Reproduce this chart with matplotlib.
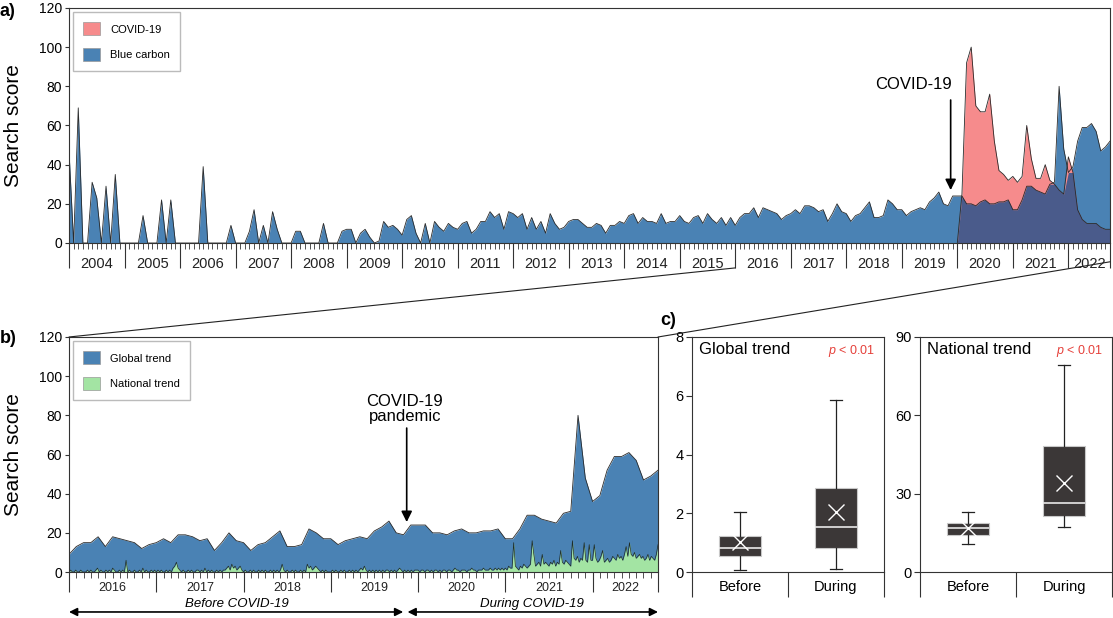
import numpy as np
import matplotlib.pyplot as plt
from matplotlib.patches import Patch, ConnectionPatch
from matplotlib.ticker import FixedLocator, MultipleLocator, NullFormatter

plt.rcParams['font.family'] = ['Liberation Sans', 'DejaVu Sans']
plt.rcParams['mathtext.fontset'] = 'custom'
plt.rcParams['mathtext.it'] = 'Liberation Sans:italic'
plt.rcParams['mathtext.rm'] = 'Liberation Sans'

BLUE = '#4a82b4'
NAVY = '#4a5b8b'
PINK = '#f68b8c'
GREEN = '#a3e4a3'
EDGE = '#2a2a2a'

#%% data: monthly search score "blue carbon", Jan 2004 - Oct 2022
bc_2004 = [47, 0, 69, 0, 0, 31, 23, 0, 29, 0, 35, 0]
bc_2005 = [0, 0, 0, 0, 14, 0, 0, 0, 22, 0, 22, 0]
bc_2006 = [0, 0, 0, 0, 0, 39, 0, 0, 0, 0, 0, 9]
bc_2007 = [0, 0, 0, 6, 17, 0, 9, 0, 16, 7, 0, 0]
bc_2008 = [0, 6, 6, 0, 0, 0, 0, 10, 0, 0, 0, 6]
bc_2009 = [7, 7, 0, 5, 7, 3, 0, 1, 11, 8, 9, 7]
bc_2010 = [4, 12, 14, 5, 0, 10, 0, 11, 8, 6, 10, 8]
bc_2011 = [7, 10, 11, 5, 7, 11, 11, 16, 13, 15, 7, 16]
bc_2012 = [15, 13, 15, 7, 13, 7, 11, 5, 15, 10, 7, 8]
bc_2013 = [11, 12, 12, 10, 8, 8, 10, 9, 5, 9, 9, 11]
bc_2014 = [10, 14, 15, 10, 13, 11, 11, 10, 15, 10, 11, 11]
bc_2015 = [14, 11, 10, 13, 14, 10, 15, 12, 10, 13, 9, 13]
bc_2016 = [9, 13, 15, 15, 18, 13, 18, 17, 16, 15, 12, 14]
bc_2017 = [15, 17, 15, 19, 19, 18, 16, 17, 11, 15, 20, 16]
bc_2018 = [15, 11, 14, 15, 18, 21, 13, 13, 14, 22, 20, 17]
bc_2019 = [17, 14, 16, 17, 18, 17, 21, 23, 26, 20, 19, 24]
bc_2020 = [24, 24, 20, 20, 19, 21, 22, 20, 20, 21, 21, 22]
bc_2021 = [17, 17, 22, 29, 29, 27, 26, 25, 30, 31, 80, 48]
bc_2022 = [36, 39, 52, 59, 59, 61, 57, 47, 49, 52]

# monthly search score "COVID-19", Jan 2020 - Oct 2022
cv_2020 = [0, 25, 92, 100, 70, 67, 67, 76, 52, 37, 35, 32]
cv_2021 = [34, 31, 34, 60, 43, 33, 33, 40, 32, 30, 27, 25]
cv_2022 = [44, 36, 17, 12, 10, 10, 10, 8, 7, 7]

# weekly national trend, 2016 - Oct 2022
nat_2016 = [0, 1, 0, 0, 1, 0, 0, 1, 0, 0, 0, 1, 0, 1, 0, 0, 1, 2, 0, 1, 0, 0, 1, 0, 1, 0,
            2, 1, 0, 0, 1, 0, 1, 0, 6, 0, 1, 0, 0, 1, 0, 0, 1, 0, 2, 0, 1, 0, 0, 1, 0, 1]
nat_2017 = [0, 1, 0, 1, 0, 0, 1, 0, 1, 0, 2, 3, 5, 2, 1, 0, 1, 0, 0, 1, 0, 1, 0, 0, 1, 1,
            0, 1, 0, 2, 0, 1, 0, 1, 0, 0, 1, 0, 1, 0, 1, 1, 2, 3, 1, 4, 2, 3, 1, 2, 3, 1]
nat_2018 = [0, 1, 0, 0, 1, 0, 1, 0, 0, 1, 0, 1, 0, 1, 0, 0, 1, 0, 1, 0, 1, 0, 1, 4, 1, 0,
            1, 0, 0, 1, 0, 1, 0, 0, 1, 0, 1, 0, 4, 2, 3, 1, 2, 3, 2, 1, 0, 1, 0, 1, 0, 0]
nat_2019 = [0, 1, 0, 1, 0, 0, 1, 0, 1, 0, 0, 1, 0, 1, 0, 1, 0, 1, 2, 1, 3, 1, 0, 1, 0, 1,
            0, 1, 0, 1, 0, 1, 0, 1, 1, 0, 1, 0, 1, 0, 1, 2, 1, 0, 1, 0, 1, 0, 1, 0, 1, 1]
nat_2020 = [1, 0, 1, 1, 0, 1, 1, 0, 1, 0, 1, 1, 0, 1, 0, 1, 1, 0, 1, 1, 0, 1, 2, 1, 1, 0,
            1, 1, 1, 0, 1, 1, 2, 1, 1, 0, 1, 1, 1, 2, 1, 1, 1, 2, 1, 1, 2, 1, 2, 1, 2, 1]
nat_2021 = [2, 1, 3, 2, 2, 15, 3, 2, 1, 3, 2, 4, 3, 2, 3, 4, 16, 9, 3, 4, 5, 3, 9, 4, 5, 4,
            3, 5, 4, 6, 3, 5, 4, 11, 5, 4, 6, 5, 4, 3, 16, 7, 6, 8, 5, 7, 6, 15, 6, 5, 14, 6]
nat_2022 = [6, 14, 7, 5, 6, 8, 11, 5, 6, 7, 5, 6, 8, 7, 6, 9, 7, 8, 6, 9,
            13, 8, 15, 9, 8, 10, 7, 8, 9, 7, 8, 6, 7, 9, 6, 8, 7, 6, 9, 14]

# box plot summaries (before / during COVID-19)
box_labels = ['Before', 'During']
glob_lo = [0.07, 0.10]
glob_q1 = [0.54, 0.81]
glob_med = [0.81, 1.52]
glob_q3 = [1.24, 2.87]
glob_hi = [2.05, 5.85]
glob_mean = [1.03, 2.05]
nat_lo = [10.7, 17.4]
nat_q1 = [14.3, 21.4]
nat_med = [16.7, 26.5]
nat_q3 = [18.9, 48.3]
nat_hi = [23.1, 79.3]
nat_mean = [16.7, 34.0]

blue_carbon = np.array(bc_2004 + bc_2005 + bc_2006 + bc_2007 + bc_2008 + bc_2009 + bc_2010
                       + bc_2011 + bc_2012 + bc_2013 + bc_2014 + bc_2015 + bc_2016 + bc_2017
                       + bc_2018 + bc_2019 + bc_2020 + bc_2021 + bc_2022, float)
months = 2004 + np.arange(len(blue_carbon)) / 12
covid = np.array(cv_2020 + cv_2021 + cv_2022, float)
covid_x = 2020 + np.arange(len(covid)) / 12
national = np.array(nat_2016 + nat_2017 + nat_2018 + nat_2019 + nat_2020 + nat_2021 + nat_2022, float)
nat_x = 2016 + np.arange(len(national)) / 52

END = 2022.75


def year_axis(ax, start, major_len, minor_len, label_y, size):
    ax.set_xlim(start, END)
    edges = list(range(start, 2023)) + [END]
    ax.xaxis.set_major_locator(FixedLocator(edges))
    ax.xaxis.set_minor_locator(MultipleLocator(1 / 12))
    ax.xaxis.set_major_formatter(NullFormatter())
    ax.tick_params(axis='x', which='major', length=major_len, width=0.8, color='#333')
    ax.tick_params(axis='x', which='minor', length=minor_len, width=0.6, color='#333')
    for yr in range(start, 2023):
        mid = (yr + min(yr + 1, END)) / 2
        ax.text(mid, label_y, str(yr), transform=ax.get_xaxis_transform(),
                ha='center', va='center', fontsize=size, color='#222')


def frame(ax):
    for s in ax.spines.values():
        s.set_linewidth(0.8)
        s.set_color('#333')
    ax.tick_params(axis='y', length=3, width=0.8, labelsize=10, pad=2, color='#333')


def legend(ax, names, colors):
    ax.legend(handles=[Patch(facecolor=c, edgecolor='#999', lw=0.5, label=n)
                       for n, c in zip(names, colors)],
              loc='upper left', fontsize=8, fancybox=False, edgecolor='#aaa',
              handlelength=1.5, handleheight=1.4, labelspacing=1.15, borderpad=0.9,
              borderaxespad=0.4, handletextpad=0.9)


fig = plt.figure(figsize=(11.13, 6.18), dpi=100)

#%% a) blue carbon vs COVID-19
ax_a = fig.add_axes([0.062, 0.6068, 0.9353, 0.3803])
ax_a.fill_between(months, blue_carbon, color=BLUE, lw=0)
ax_a.fill_between(covid_x, covid, color=PINK, lw=0)
ax_a.fill_between(covid_x, np.minimum(covid, blue_carbon[-len(covid):]), color=NAVY, lw=0)
ax_a.plot(months, blue_carbon, color=EDGE, lw=0.6)
ax_a.plot(covid_x, covid, color=EDGE, lw=0.6)
ax_a.set_ylim(0, 120)
ax_a.yaxis.set_major_locator(MultipleLocator(20))
frame(ax_a)
year_axis(ax_a, 2004, 18, 4.3, -0.09, 10.5)
ax_a.set_ylabel('Search score', fontsize=15)
ax_a.yaxis.set_label_coords(-46 / 1041, 0.5)
ax_a.text(2019.21, 81, 'COVID-19', ha='center', va='center', fontsize=12)
ax_a.annotate('', xy=(2019.88, 27), xytext=(2019.88, 73),
              arrowprops=dict(arrowstyle='-|>', color='k', lw=1.2, mutation_scale=16,
                              shrinkA=0, shrinkB=0))
legend(ax_a, ['COVID-19', 'Blue carbon'], [PINK, BLUE])

#%% b) global vs national trend
ax_b = fig.add_axes([0.062, 0.0744, 0.5292, 0.3803])
ax_b.fill_between(months[144:], blue_carbon[144:], color=BLUE, lw=0)
ax_b.plot(months[144:], blue_carbon[144:], color=EDGE, lw=0.6)
ax_b.fill_between(nat_x, national, color=GREEN, lw=0)
ax_b.plot(nat_x, national, color='#1e2b26', lw=0.5)
ax_b.set_ylim(0, 120)
ax_b.yaxis.set_major_locator(MultipleLocator(20))
frame(ax_b)
year_axis(ax_b, 2016, 14.4, 4.5, -0.068, 9)
ax_b.set_ylabel('Search score', fontsize=15)
ax_b.yaxis.set_label_coords(-46 / 589, 0.5)
ax_b.text(2019.85, 83, 'COVID-19\npandemic', ha='center', va='center', fontsize=12,
          linespacing=1.0)
ax_b.annotate('', xy=(2019.87, 25.5), xytext=(2019.87, 73.5),
              arrowprops=dict(arrowstyle='-|>', color='k', lw=1.2, mutation_scale=16,
                              shrinkA=0, shrinkB=0))
legend(ax_b, ['Global trend', 'National trend'], [BLUE, GREEN])
tb = ax_b.get_xaxis_transform()
ax_b.annotate('', xy=(2016, -0.17), xytext=(2019.83, -0.17), xycoords=tb, textcoords=tb,
              annotation_clip=False,
              arrowprops=dict(arrowstyle='<|-|>', color='k', lw=1.2, mutation_scale=12,
                              shrinkA=0, shrinkB=0))
ax_b.annotate('', xy=(2019.88, -0.17), xytext=(END, -0.17), xycoords=tb, textcoords=tb,
              annotation_clip=False,
              arrowprops=dict(arrowstyle='<|-|>', color='k', lw=1.2, mutation_scale=12,
                              shrinkA=0, shrinkB=0))
ax_b.text(2017.92, -0.136, 'Before COVID-19', transform=tb, ha='center', va='center',
          fontsize=9.5, style='italic')
ax_b.text(2021.3, -0.136, 'During COVID-19', transform=tb, ha='center', va='center',
          fontsize=9.5, style='italic')

#%% c) box plots
def box_panel(rect, lo, q1, med, q3, hi, mean, ymax, step, title):
    ax = fig.add_axes(rect)
    stats = [dict(whislo=lo[i], q1=q1[i], med=med[i], q3=q3[i], whishi=hi[i], mean=mean[i])
             for i in range(2)]
    ax.bxp(stats, positions=[1, 2], widths=0.43, patch_artist=True, showmeans=True,
           showfliers=False, capwidths=0.12,
           boxprops=dict(facecolor='#3b3737', edgecolor='#c8c8c8', lw=0.8),
           medianprops=dict(color='#e8e8e8', lw=1.2),
           whiskerprops=dict(color='#222', lw=0.9),
           capprops=dict(color='#222', lw=0.9),
           meanprops=dict(marker='x', markeredgecolor='white', markersize=12,
                          markeredgewidth=1.0))
    ax.set_ylim(0, ymax)
    ax.yaxis.set_major_locator(MultipleLocator(step))
    ax.set_xlim(0.5, 2.5)
    ax.xaxis.set_major_locator(FixedLocator([0.5, 1.5, 2.5]))
    ax.xaxis.set_major_formatter(NullFormatter())
    ax.tick_params(axis='x', which='major', length=18, width=0.8, color='#333')
    frame(ax)
    ax.tick_params(axis='y', length=4, labelsize=10.5)
    for i, lab in enumerate(box_labels):
        ax.text(i + 1, -0.064, lab, transform=ax.get_xaxis_transform(), ha='center',
                va='center', fontsize=10.5)
    ax.text(0.035, 0.945, title, transform=ax.transAxes, ha='left', va='center', fontsize=12)
    ax.text(0.955, 0.94, r'$\it{p}$ < 0.01', transform=ax.transAxes, ha='right',
            va='center', fontsize=9, color='#e5403a')
    return ax


ax_c1 = box_panel([0.6217, 0.0744, 0.1725, 0.3803], glob_lo, glob_q1, glob_med, glob_q3,
                  glob_hi, glob_mean, 8, 2, 'Global trend')
ax_c2 = box_panel([0.8266, 0.0744, 0.1725, 0.3803], nat_lo, nat_q1, nat_med, nat_q3,
                  nat_hi, nat_mean, 90, 30, 'National trend')

#%% zoom connectors and panel letters
for xa, ya in [(2016, -0.106), (END, -0.08)]:
    con = ConnectionPatch(xyA=(xa, ya), coordsA=ax_a.get_xaxis_transform(),
                          xyB=(xa, 1), coordsB=ax_b.get_xaxis_transform(),
                          color='#222', lw=0.8)
    fig.add_artist(con)

fig.text(0.0, 0.981, 'a)', fontsize=13, fontweight='bold', va='center')
fig.text(0.0, 0.453, 'b)', fontsize=13, fontweight='bold', va='center')
fig.text(0.593, 0.482, 'c)', fontsize=13, fontweight='bold', va='center')

fig.savefig('out.png', dpi=100)
